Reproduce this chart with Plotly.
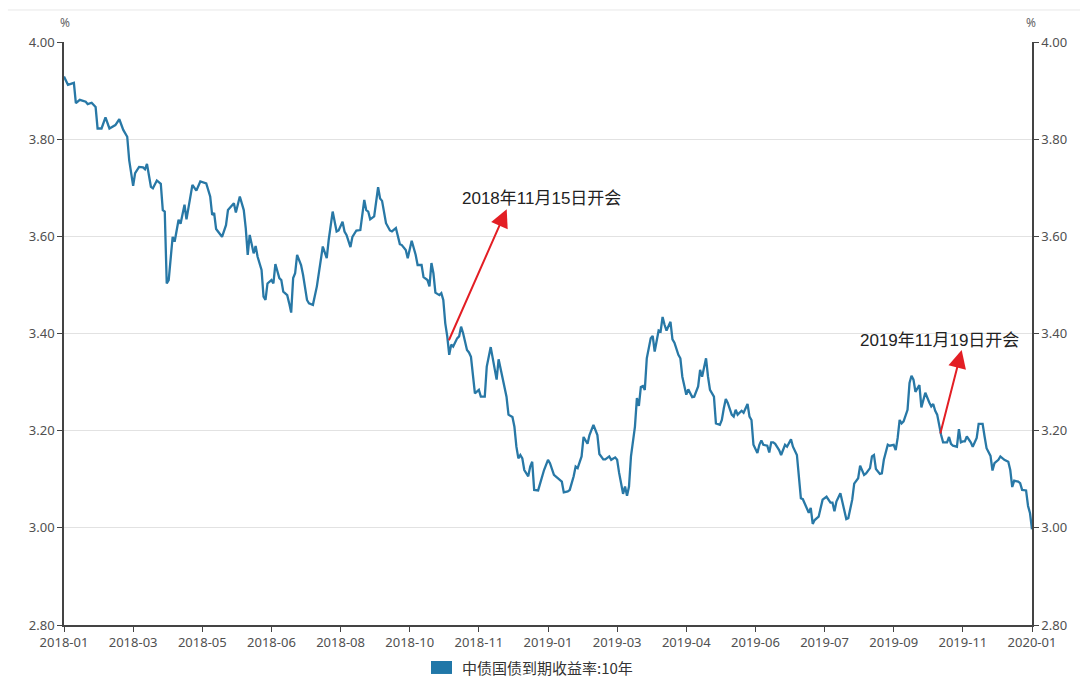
import plotly.graph_objects as go

# ---- data (trading-day index, 10Y yield %) ----
day_index = [
    0, 2, 5, 6, 8, 11, 12, 14, 16, 17, 19, 21, 23, 25, 26, 28, 30, 32, 33, 35,
    36, 38, 40, 41, 42, 44, 45, 47, 49, 50, 51, 52, 53, 55, 56, 58, 59, 61, 62, 65,
    67, 69, 72, 74, 75, 76, 77, 80, 82, 83, 86, 87, 89, 91, 92, 93, 94, 96, 97, 98,
    100, 101, 102, 103, 105, 106, 107, 109, 110, 111, 113, 114, 115, 116, 117, 118, 120, 121, 123, 124,
    126, 128, 130, 131, 133, 134, 136, 137, 138, 139, 141, 142, 143, 145, 146, 148, 150, 152, 153, 154,
    155, 157, 159, 160, 161, 163, 165, 166, 168, 170, 171, 173, 174, 176, 178, 179, 181, 182, 184, 185,
    186, 187, 188, 190, 191, 192, 193, 194, 195, 196, 197, 199, 200, 201, 202, 204, 205, 206, 208, 210,
    211, 213, 214, 216, 217, 219, 220, 222, 224, 225, 227, 228, 229, 230, 231, 232, 233, 235, 236, 237,
    238, 240, 242, 243, 245, 246, 248, 250, 252, 253, 255, 256, 258, 259, 260, 262, 263, 265, 266, 268,
    270, 271, 273, 274, 276, 277, 279, 280, 281, 283, 284, 285, 286, 287, 289, 290, 291, 292, 293, 294,
    295, 297, 298, 299, 300, 301, 302, 303, 304, 305, 307, 308, 309, 311, 312, 313, 315, 316, 318, 319,
    321, 322, 323, 325, 326, 327, 329, 330, 332, 333, 334, 335, 336, 338, 339, 340, 341, 343, 344, 345,
    346, 347, 348, 349, 351, 352, 353, 354, 356, 357, 358, 359, 360, 362, 363, 365, 366, 368, 369, 371,
    372, 373, 374, 376, 377, 378, 379, 380, 382, 384, 386, 388, 389, 390, 391, 393, 394, 396, 397, 399,
    400, 402, 403, 405, 406, 408, 409, 410, 411, 413, 414, 415, 417, 418, 420, 421, 422, 423, 424, 425,
    427, 428, 429, 430, 431, 433, 434, 435, 436, 438, 439, 440, 441, 442, 443, 444, 445, 447, 448, 449,
    450, 452, 453, 454, 455, 456, 457, 459, 460, 462, 463, 465, 466, 467, 469, 470, 471, 473, 474, 476,
    478, 479, 480, 481, 483, 484, 485, 487, 488, 489, 490,
]
yield_10y = [
    3.929, 3.912, 3.916, 3.874, 3.881, 3.877, 3.872, 3.875, 3.866, 3.822, 3.822, 3.845, 3.822, 3.826, 3.829, 3.841, 3.819, 3.805, 3.757, 3.704,
    3.730, 3.743, 3.742, 3.738, 3.749, 3.702, 3.699, 3.715, 3.708, 3.654, 3.651, 3.503, 3.510, 3.599, 3.589, 3.634, 3.626, 3.665, 3.635, 3.706,
    3.694, 3.713, 3.709, 3.682, 3.644, 3.648, 3.615, 3.599, 3.623, 3.654, 3.668, 3.649, 3.682, 3.654, 3.617, 3.562, 3.603, 3.565, 3.580, 3.558,
    3.531, 3.476, 3.469, 3.503, 3.510, 3.503, 3.543, 3.514, 3.510, 3.486, 3.479, 3.462, 3.443, 3.514, 3.524, 3.562, 3.541, 3.521, 3.469, 3.462,
    3.459, 3.497, 3.548, 3.579, 3.555, 3.593, 3.651, 3.630, 3.610, 3.612, 3.630, 3.610, 3.603, 3.578, 3.599, 3.612, 3.613, 3.675, 3.654, 3.651,
    3.635, 3.641, 3.701, 3.678, 3.673, 3.627, 3.612, 3.610, 3.617, 3.584, 3.582, 3.572, 3.555, 3.591, 3.562, 3.541, 3.541, 3.516, 3.510, 3.497,
    3.545, 3.524, 3.484, 3.479, 3.483, 3.469, 3.421, 3.394, 3.356, 3.377, 3.373, 3.390, 3.394, 3.414, 3.401, 3.366, 3.361, 3.352, 3.277, 3.284,
    3.270, 3.270, 3.332, 3.372, 3.352, 3.305, 3.347, 3.305, 3.270, 3.233, 3.228, 3.208, 3.167, 3.143, 3.150, 3.143, 3.119, 3.106, 3.126, 3.136,
    3.078, 3.077, 3.106, 3.119, 3.140, 3.133, 3.109, 3.102, 3.095, 3.073, 3.075, 3.078, 3.106, 3.126, 3.123, 3.147, 3.187, 3.173, 3.191, 3.212,
    3.191, 3.152, 3.141, 3.141, 3.147, 3.140, 3.145, 3.140, 3.113, 3.070, 3.085, 3.066, 3.085, 3.147, 3.208, 3.267, 3.251, 3.290, 3.292, 3.284,
    3.349, 3.390, 3.395, 3.363, 3.383, 3.406, 3.404, 3.434, 3.418, 3.406, 3.424, 3.388, 3.381, 3.356, 3.349, 3.311, 3.274, 3.285, 3.269, 3.270,
    3.291, 3.325, 3.311, 3.349, 3.311, 3.284, 3.270, 3.215, 3.212, 3.222, 3.246, 3.265, 3.257, 3.233, 3.229, 3.243, 3.233, 3.241, 3.237, 3.246,
    3.255, 3.229, 3.222, 3.171, 3.154, 3.171, 3.180, 3.171, 3.169, 3.155, 3.176, 3.176, 3.173, 3.160, 3.150, 3.171, 3.167, 3.182, 3.167, 3.150,
    3.106, 3.061, 3.059, 3.041, 3.031, 3.041, 3.008, 3.016, 3.023, 3.058, 3.064, 3.052, 3.052, 3.034, 3.054, 3.071, 3.051, 3.018, 3.020, 3.058,
    3.091, 3.102, 3.128, 3.109, 3.112, 3.123, 3.147, 3.150, 3.121, 3.111, 3.112, 3.140, 3.171, 3.169, 3.171, 3.160, 3.185, 3.222, 3.215, 3.219,
    3.243, 3.298, 3.313, 3.305, 3.280, 3.294, 3.248, 3.265, 3.278, 3.258, 3.250, 3.255, 3.241, 3.233, 3.208, 3.191, 3.176, 3.176, 3.187, 3.173,
    3.169, 3.167, 3.203, 3.176, 3.178, 3.178, 3.188, 3.176, 3.167, 3.185, 3.214, 3.214, 3.188, 3.164, 3.148, 3.118, 3.133, 3.140, 3.147, 3.140,
    3.136, 3.119, 3.084, 3.097, 3.095, 3.092, 3.078, 3.077, 3.045, 3.030, 2.997,
]

tick_labels = ["2018-01", "2018-03", "2018-05", "2018-06", "2018-08", "2018-10", "2018-11",
               "2019-01", "2019-03", "2019-04", "2019-06", "2019-07", "2019-09", "2019-11", "2020-01"]
tick_days = list(range(0, 491, 35))

series_name = "中债国债到期收益率:10年"

# event annotations: (tail day, tail yield, head day, head yield, text day, text yield, text)
events = [
    (194.5, 3.383, 224.1, 3.656, 241.8, 3.678, "2018年11月15日开会"),
    (443.4, 3.191, 454.4, 3.366, 443.1, 3.385, "2019年11月19日开会"),
]

line_color = "#2878a6"
arrow_color = "#e31e24"
axis_color = "#444444"
tick_font = dict(family="Noto Sans, Noto Sans CJK SC, sans-serif", size=13, color="#505050")

fig = go.Figure()
fig.add_trace(go.Scatter(
    x=day_index, y=yield_10y, mode="lines", name=series_name,
    line=dict(color=line_color, width=2.3), showlegend=False,
))
# invisible anchor so that the right-hand axis is drawn
fig.add_trace(go.Scatter(
    x=[day_index[0]], y=[yield_10y[0]], yaxis="y2", mode="markers",
    marker=dict(opacity=0), showlegend=False, hoverinfo="skip",
))

annotations = []
for tx, ty, hx, hy, lx, ly, txt in events:
    annotations.append(dict(
        x=hx, y=hy, ax=tx, ay=ty, xref="x", yref="y", axref="x", ayref="y",
        text="", showarrow=True, arrowhead=2, arrowsize=1.8, arrowwidth=2,
        arrowcolor=arrow_color, standoff=0, startstandoff=0,
    ))
    annotations.append(dict(
        x=lx, y=ly, xref="x", yref="y", text=txt, showarrow=False,
        xanchor="center", yanchor="middle",
        font=dict(family="Liberation Sans, Noto Sans CJK SC, sans-serif", size=17, color="#222222"),
    ))

# unit labels
for xp in (0.001, 0.999):
    annotations.append(dict(x=xp, y=1.034, xref="paper", yref="paper", text="%", showarrow=False,
                            xanchor="center", yanchor="middle",
                            font=dict(family="Noto Sans, sans-serif", size=12, color="#666666")))

# legend text
annotations.append(dict(x=0.4091, y=-0.0729, xref="paper", yref="paper", text=series_name,
                        showarrow=False, xanchor="left", yanchor="middle",
                        font=dict(family="Noto Sans CJK SC, sans-serif", size=15, color="#333333")))

shapes = [
    dict(type="rect", xref="paper", yref="paper", x0=0.3791, x1=0.4008, y0=-0.0840, y1=-0.0617,
         fillcolor="#2077a8", line=dict(width=0)),
    dict(type="line", xref="paper", yref="paper", x0=-0.058, x1=1.05, y0=1.0549, y1=1.0549,
         line=dict(color="#e8e8e8", width=1)),
]

yaxis_common = dict(
    range=[2.8, 4.0], dtick=0.2, tickformat=".2f", showline=True, linecolor=axis_color,
    linewidth=1.5, ticks="outside", ticklen=5, tickcolor=axis_color, tickfont=tick_font,
    zeroline=False, fixedrange=True,
)

fig.update_layout(
    width=1080, height=681,
    margin=dict(l=64, r=48, t=42, b=56),
    paper_bgcolor="white", plot_bgcolor="white",
    showlegend=False,
    xaxis=dict(range=[0, 490], tickmode="array", tickvals=tick_days, ticktext=tick_labels,
               showline=True, linecolor=axis_color, linewidth=1.5, ticks="outside", ticklen=5,
               tickcolor=axis_color, tickfont=tick_font, showgrid=False, zeroline=False),
    yaxis=dict(**yaxis_common, showgrid=True, gridcolor="#e2e2e2", gridwidth=1),
    yaxis2=dict(**yaxis_common, overlaying="y", side="right", showgrid=False),
    annotations=annotations,
    shapes=shapes,
)

fig.write_html(
    "out.html",
    config={"displayModeBar": False},
    post_script="document.body.style.margin='0';document.body.style.overflow='hidden';",
)
